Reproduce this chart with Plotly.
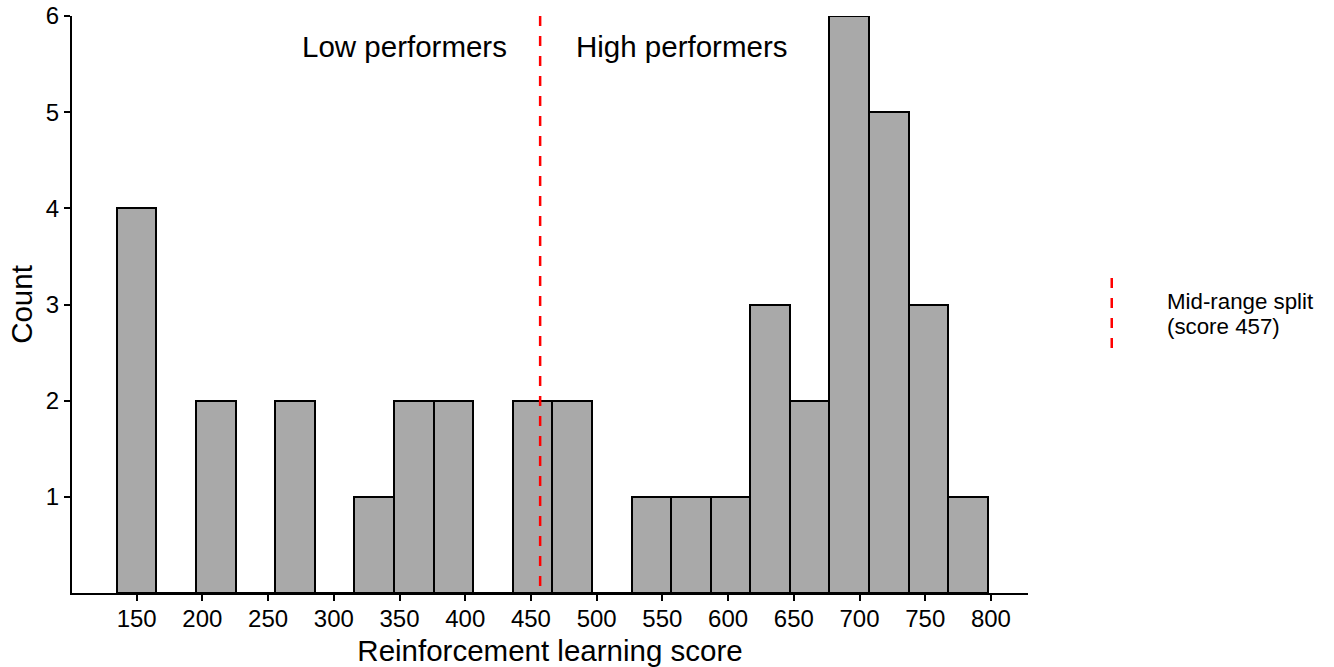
import plotly.graph_objects as go

# ---- data ----
bin_centers = [150.0, 180.1, 210.2, 240.4, 270.5, 300.6, 330.7, 360.8, 391.0, 421.1, 451.2,
               481.3, 511.4, 541.6, 571.7, 601.8, 631.9, 662.0, 692.2, 722.3, 752.4, 782.5]
counts = [4, 0, 2, 0, 2, 0, 1, 2, 2, 0, 2,
          2, 0, 1, 1, 1, 3, 2, 6, 5, 3, 1]
bin_width = 30.12
split_score = 457
x_ticks = [150, 200, 250, 300, 350, 400, 450, 500, 550, 600, 650, 700, 750, 800]
y_ticks = [1, 2, 3, 4, 5, 6]
group_labels = ["Low performers", "High performers"]
legend_lines = ["Mid-range split", "(score 457)"]

FONT = "Liberation Sans, Arial, sans-serif"

fig = go.Figure()
fig.add_trace(go.Bar(
    x=bin_centers, y=counts, width=bin_width,
    marker=dict(color="#A9A9A9", line=dict(color="black", width=2)),
    showlegend=False, hoverinfo="x+y",
))
fig.add_trace(go.Scatter(
    x=[split_score, split_score], y=[6, 0], mode="lines",
    line=dict(color="#FF0000", width=2.5, dash="10px,10px"),
    showlegend=False, hoverinfo="skip", cliponaxis=False,
))

# group labels
fig.add_annotation(x=split_score - 23.5, y=5.68, text=group_labels[0], showarrow=False,
                   xanchor="right", yanchor="middle", font=dict(size=29.5, color="black", family=FONT))
fig.add_annotation(x=split_score + 25.7, y=5.68, text=group_labels[1], showarrow=False,
                   xanchor="left", yanchor="middle", font=dict(size=29.5, color="black", family=FONT))

# legend (key + text) outside plot area
fig.add_shape(type="line", xref="paper", yref="paper", x0=1.0876, x1=1.0876, y0=0.5459, y1=0.4211,
              line=dict(color="#FF0000", width=2.5, dash="10px,10px"))
fig.add_annotation(xref="paper", yref="paper", x=1.1433, y=(593 - 301) / 577, text=legend_lines[0],
                   showarrow=False, xanchor="left", yanchor="middle",
                   font=dict(size=22.3, color="black", family=FONT))
fig.add_annotation(xref="paper", yref="paper", x=1.1433, y=(593 - 326) / 577, text=legend_lines[1],
                   showarrow=False, xanchor="left", yanchor="middle",
                   font=dict(size=22.3, color="black", family=FONT))

fig.update_layout(
    width=1334, height=667,
    margin=dict(l=72, r=306, t=16, b=74),
    plot_bgcolor="white", paper_bgcolor="white",
    font=dict(family=FONT, color="black"),
    bargap=0,
    xaxis=dict(
        range=[100.8, 828.2], tickvals=x_ticks, ticks="outside", ticklen=6, tickwidth=2,
        tickcolor="black", showline=True, linecolor="black", linewidth=2, automargin=False,
        showgrid=False, zeroline=False, tickfont=dict(size=24, color="black"),
        ticklabelstandoff=-3,
        title=dict(text="Reinforcement learning score", font=dict(size=29.5, color="black")),
    ),
    yaxis=dict(
        range=[0, 6], tickvals=y_ticks, ticks="outside", ticklen=6, tickwidth=2,
        tickcolor="black", showline=True, linecolor="black", linewidth=2, automargin="left",
        showgrid=False, zeroline=False, tickfont=dict(size=24, color="black"),
        title=dict(text="Count", font=dict(size=29.5, color="black"), standoff=5),
    ),
)

fig.write_html("out.html")
